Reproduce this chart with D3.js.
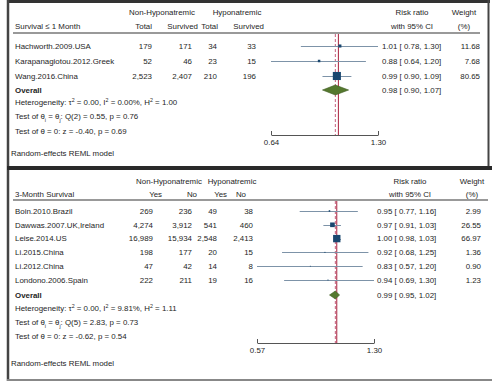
<!DOCTYPE html>
<html>
<head>
<meta charset="utf-8">
<script src="https://cdn.jsdelivr.net/npm/d3@7"></script>
<style>
  body { margin: 0; background: #fff; }
  text { font-family: "Liberation Sans", Arial, sans-serif; font-size: 7.9px; fill: #1e1e1e; }
</style>
</head>
<body>
<script>
// ---- panel 1: survival <= 1 month
const studies1 = ['Hachworth.2009.USA', 'Karapanagiotou.2012.Greek', 'Wang.2016.China'];
const nonTotal1 = [179, 52, 2523];
const nonSurv1 = [171, 46, 2407];
const hypTotal1 = [34, 23, 210];
const hypSurv1 = [33, 15, 196];
const rr1 = [1.01, 0.88, 0.99];
const lo1 = [0.78, 0.64, 0.90];
const hi1 = [1.30, 1.20, 1.09];
const weight1 = [11.68, 7.68, 80.65];
const overall1 = [0.98, 0.90, 1.07];
const ticks1 = [0.64, 1.30];
const stats1 = [
  'Heterogeneity: τ^2 = 0.00, I^2 = 0.00%, H^2 = 1.00',
  'Test of θ_i = θ_j: Q(2) = 0.55, p = 0.76',
  'Test of θ = 0: z = -0.40, p = 0.69'
];

// ---- panel 2: 3-month survival
const studies2 = ['Boin.2010.Brazil', 'Dawwas.2007.UK,Ireland', 'Leise.2014.US', 'Li.2015.China', 'Li.2012.China', 'Londono.2006.Spain'];
const nonYes2 = [269, 4274, 16989, 198, 47, 222];
const nonNo2 = [236, 3912, 15934, 177, 42, 211];
const hypYes2 = [49, 541, 2548, 20, 14, 19];
const hypNo2 = [38, 460, 2413, 15, 8, 16];
const rr2 = [0.95, 0.97, 1.00, 0.92, 0.83, 0.94];
const lo2 = [0.77, 0.91, 0.98, 0.68, 0.57, 0.69];
const hi2 = [1.16, 1.03, 1.03, 1.25, 1.20, 1.30];
const weight2 = [2.99, 26.55, 66.97, 1.36, 0.90, 1.23];
const overall2 = [0.99, 0.95, 1.02];
const ticks2 = [0.57, 1.30];
const stats2 = [
  'Heterogeneity: τ^2 = 0.00, I^2 = 9.81%, H^2 = 1.11',
  'Test of θ_i = θ_j: Q(5) = 2.83, p = 0.73',
  'Test of θ = 0: z = -0.62, p = 0.54'
];

const W = 492, H = 389;
const fmtN = d3.format(',');
const f2 = d3.format('.2f');

const svg = d3.select('body').append('svg')
  .attr('width', W).attr('height', H);

// text with ^x superscript and _x subscript
function richText(g, x, y, str, anchor) {
  const t = g.append('text').attr('x', x).attr('y', y).attr('dy', '0.35em')
    .attr('text-anchor', anchor || 'start');
  const parts = str.split(/([\^_]\w)/);
  parts.forEach(p => {
    if (!p) return;
    if (p[0] === '^') {
      t.append('tspan').attr('baseline-shift', 'super').attr('font-size', '5.3px').text(p[1]);
    } else if (p[0] === '_') {
      t.append('tspan').attr('baseline-shift', 'sub').attr('font-size', '5.3px').text(p[1]);
    } else {
      t.append('tspan').text(p);
    }
  });
  return t;
}

function label(g, x, y, s, anchor, bold) {
  return g.append('text').attr('x', x).attr('y', y).attr('dy', '0.35em')
    .attr('text-anchor', anchor).attr('font-weight', bold ? 'bold' : null).text(s);
}

function drawPanel(p) {
  const g = svg.append('g');
  // header
  p.groupHead.forEach(h => label(g, h.x, p.yHead1, h.t, 'middle'));
  label(g, 15, p.yHead2, p.title, 'start');
  p.colHead.forEach(h => label(g, h.x, p.yHead2, h.t, 'end'));
  label(g, p.rrX, p.yHead1, 'Risk ratio', 'middle');
  label(g, p.rrX, p.yHead2, 'with 95% CI', 'middle');
  label(g, p.wX, p.yHead1, 'Weight', 'middle');
  label(g, p.wX, p.yHead2, '(%)', 'middle');
  g.append('line').attr('x1', 13).attr('x2', p.ruleEnd)
    .attr('y1', p.yRule).attr('y2', p.yRule)
    .attr('stroke', '#777').attr('stroke-width', 1.3);

  const y = d3.scalePoint().domain(p.studies).range([p.yRow0, p.yRowN]);
  const x = d3.scaleLog().domain(p.ticks).range(p.xRange);

  // reference lines
  g.append('line').attr('x1', x(1)).attr('x2', x(1))
    .attr('y1', p.yRule + 1).attr('y2', p.yAxis)
    .attr('stroke', '#a8203c').attr('stroke-width', 1);
  g.append('line').attr('x1', x(p.overall[0])).attr('x2', x(p.overall[0]))
    .attr('y1', p.yRule + 1).attr('y2', p.yAxis)
    .attr('stroke', '#c4607e').attr('stroke-width', 1).attr('stroke-dasharray', '3,2');

  p.studies.forEach((s, i) => {
    const yy = y(s);
    label(g, 15, yy, s, 'start');
    p.cols.forEach((c, j) => label(g, p.colX[j], yy, fmtN(c[i]), 'end'));
    g.append('line').attr('x1', x(p.lo[i])).attr('x2', x(p.hi[i]))
      .attr('y1', Math.round(yy) + 0.5).attr('y2', Math.round(yy) + 0.5)
      .attr('stroke', '#7d93a8').attr('stroke-width', 1);
    const sz = Math.sqrt(p.weight[i]) * 0.9;
    g.append('rect').attr('x', x(p.rr[i]) - sz / 2).attr('y', yy - sz / 2)
      .attr('width', sz).attr('height', sz).attr('fill', '#1a476f');
    label(g, p.ciX, yy, f2(p.rr[i]) + ' [ ' + f2(p.lo[i]) + ',  ' + f2(p.hi[i]) + ']', 'start');
    label(g, p.wRight, yy, f2(p.weight[i]), 'end');
  });

  // overall
  label(g, 15, p.yOverall, 'Overall', 'start', true);
  const o = p.overall, dh = p.diamondH / 2;
  g.append('path')
    .attr('d', `M${x(o[1])},${p.yOverall} L${x(o[0])},${p.yOverall - dh} L${x(o[2])},${p.yOverall} L${x(o[0])},${p.yOverall + dh} Z`)
    .attr('fill', '#55782e').attr('stroke', '#3c5a20').attr('stroke-width', 0.6);
  label(g, p.ciX, p.yOverall, f2(o[0]) + ' [ ' + f2(o[1]) + ',  ' + f2(o[2]) + ']', 'start');

  p.stats.forEach((s, i) => richText(g, 15, p.yStats[i], s));

  // axis
  const ax = g.append('g').attr('transform', `translate(0,${p.yAxis})`)
    .call(d3.axisBottom(x).tickValues(p.ticks).tickFormat(f2)
      .tickSizeInner(-4).tickSizeOuter(0).tickPadding(4));
  ax.select('.domain').attr('stroke', '#555');
  ax.selectAll('.tick line').attr('stroke', '#555');
  ax.selectAll('.tick text').style('font-family', '"Liberation Sans", Arial, sans-serif')
    .style('font-size', '7.9px').attr('fill', '#1e1e1e');

  label(g, 11, p.yModel, 'Random-effects REML model', 'start');
}

drawPanel({
  title: 'Survival ≤ 1 Month',
  groupHead: [{ x: 162, t: 'Non-Hyponatremic' }, { x: 237, t: 'Hyponatremic' }],
  colHead: [{ x: 152, t: 'Total' }, { x: 198, t: 'Survived' }, { x: 218, t: 'Total' }, { x: 264, t: 'Survived' }],
  colX: [152, 192, 217, 256],
  cols: [nonTotal1, nonSurv1, hypTotal1, hypSurv1],
  studies: studies1, rr: rr1, lo: lo1, hi: hi1, weight: weight1, overall: overall1,
  ticks: ticks1, xRange: [271, 378], stats: stats1,
  yHead1: 12, yHead2: 26, yRule: 33, yRow0: 46, yRowN: 76, yOverall: 90,
  yStats: [102, 116, 131], yAxis: 135, yModel: 153,
  rrX: 412, wX: 464, ciX: 382, wRight: 480, ruleEnd: 480, diamondH: 10
});

drawPanel({
  title: '3-Month Survival',
  groupHead: [{ x: 169, t: 'Non-Hyponatremic' }, { x: 232, t: 'Hyponatremic' }],
  colHead: [{ x: 162, t: 'Yes' }, { x: 197, t: 'No' }, { x: 227, t: 'Yes' }, { x: 246, t: 'No' }],
  colX: [153, 192, 217, 253],
  cols: [nonYes2, nonNo2, hypYes2, hypNo2],
  studies: studies2, rr: rr2, lo: lo2, hi: hi2, weight: weight2, overall: overall2,
  ticks: ticks2, xRange: [257, 374], stats: stats2,
  yHead1: 181, yHead2: 194, yRule: 200, yRow0: 211, yRowN: 280, yOverall: 295,
  yStats: [308, 322, 336], yAxis: 343, yModel: 363,
  rrX: 410, wX: 472, ciX: 377, wRight: 481, ruleEnd: 488, diamondH: 8
});

// frame
svg.append('line').attr('x1', 7).attr('x2', 490).attr('y1', 1.5).attr('y2', 1.5)
  .attr('stroke', '#333').attr('stroke-width', 3);
svg.append('line').attr('x1', 8).attr('x2', 8).attr('y1', 0).attr('y2', 381)
  .attr('stroke', '#444').attr('stroke-width', 2.5);
svg.append('line').attr('x1', 488.5).attr('x2', 488.5).attr('y1', 0).attr('y2', 168)
  .attr('stroke', '#444').attr('stroke-width', 2);
svg.append('line').attr('x1', 7).attr('x2', W).attr('y1', 168).attr('y2', 168)
  .attr('stroke', '#2a2a2a').attr('stroke-width', 4);
svg.append('line').attr('x1', 7).attr('x2', W).attr('y1', 380).attr('y2', 380)
  .attr('stroke', '#888').attr('stroke-width', 2);
</script>
</body>
</html>
